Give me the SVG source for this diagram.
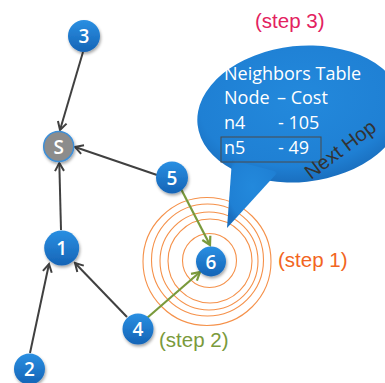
<svg xmlns="http://www.w3.org/2000/svg" width="385" height="383" viewBox="0 0 385 383">
  <style>
    .ring { fill: none; stroke: #f5914a; stroke-width: 1.1; }
    .edge { fill: none; stroke: #404040; stroke-width: 2; }
    .hop { fill: none; stroke: #7a9a3c; stroke-width: 2.2; }
    .node { fill: url(#nodeFill); filter: url(#shadow); }
    .sink { fill: #8c8c8c; stroke: #3d8fd8; stroke-width: 1.5; filter: url(#shadow); }
    .lbl { font-family: "Open Sans", "Liberation Sans", sans-serif; font-size: 19px; font-weight: 600; fill: #ffffff; text-anchor: middle; }
    .tbl { font-family: "Open Sans", "Liberation Sans", sans-serif; font-size: 18px; fill: #ffffff; }
    .step { font-family: "Liberation Sans", Arial, sans-serif; font-size: 20.5px; }
  </style>
  <defs>
    <linearGradient id="nodeFill" x1="0" y1="0" x2="0" y2="1">
      <stop offset="0" stop-color="#2a8fe2"/>
      <stop offset="1" stop-color="#1564b6"/>
    </linearGradient>
    <radialGradient id="bubbleFill" cx="0.5" cy="0.4" r="0.6">
      <stop offset="0" stop-color="#2389dc"/>
      <stop offset="0.8" stop-color="#1f80d4"/>
      <stop offset="1" stop-color="#1a6fbf"/>
    </radialGradient>
    <filter id="shadow" x="-30%" y="-30%" width="170%" height="170%">
      <feDropShadow dx="1" dy="2" stdDeviation="1.5" flood-color="#000" flood-opacity="0.35"/>
    </filter>
    <marker id="arrDark" viewBox="-10 -6 12 12" refX="0" refY="0" markerWidth="12" markerHeight="12" markerUnits="userSpaceOnUse" orient="auto">
      <path d="M-8,-4.5 L0,0 L-8,4.5" fill="none" stroke="#404040" stroke-width="2" stroke-linejoin="miter"/>
    </marker>
    <marker id="arrGreen" viewBox="-10 -6 12 12" refX="0" refY="0" markerWidth="12" markerHeight="12" markerUnits="userSpaceOnUse" orient="auto">
      <path d="M-8,-4.5 L0,0 L-8,4.5" fill="none" stroke="#7a9a3c" stroke-width="2.2" stroke-linejoin="miter"/>
    </marker>
  </defs>

  <!-- broadcast rings around node 6 -->
  <g id="rings">
    <circle class="ring" cx="207" cy="261.5" r="64"/>
    <circle class="ring" cx="207.5" cy="260" r="56"/>
    <circle class="ring" cx="209" cy="261" r="49"/>
    <circle class="ring" cx="210" cy="261" r="42"/>
    <circle class="ring" cx="209.5" cy="260.5" r="27"/>
  </g>

  <!-- neighbors table callout -->
  <g id="callout">
    <g fill="url(#bubbleFill)">
      <ellipse cx="300" cy="114" rx="103" ry="68" transform="rotate(-6 300 114)"/>
      <polygon points="232,160 227,228 278,172"/>
    </g>
    <text class="tbl" x="224" y="80">Neighbors Table</text>
    <text class="tbl" x="224" y="104">Node</text>
    <text class="tbl" x="277" y="104">– Cost</text>
    <text class="tbl" x="224" y="129">n4</text>
    <text class="tbl" x="278" y="129">- 105</text>
    <text class="tbl" x="224" y="154">n5</text>
    <text class="tbl" x="278" y="154">- 49</text>
    <rect x="221" y="137" width="100" height="25" fill="none" stroke="#4a4a4a" stroke-width="1"/>
    <text x="311" y="180" transform="rotate(-37 311 180)" font-family="Liberation Sans, Arial, sans-serif" font-size="20" fill="#333333">Next Hop</text>
  </g>

  <!-- connectors -->
  <g id="connectors">
    <line class="edge" x1="83" y1="52" x2="60" y2="130" marker-end="url(#arrDark)"/>
    <line class="edge" x1="157" y1="175" x2="75" y2="147" marker-end="url(#arrDark)"/>
    <line class="edge" x1="61" y1="230" x2="59.3" y2="163" marker-end="url(#arrDark)"/>
    <line class="edge" x1="30" y1="353" x2="49" y2="264" marker-end="url(#arrDark)"/>
    <line class="edge" x1="127" y1="317" x2="75" y2="263" marker-end="url(#arrDark)"/>
    <line class="hop" x1="180" y1="187" x2="210" y2="245" marker-end="url(#arrGreen)"/>
    <line class="hop" x1="147" y1="318" x2="200" y2="272" marker-end="url(#arrGreen)"/>
  </g>

  <!-- nodes -->
  <g id="node-3"><circle class="node" cx="84" cy="36" r="16"/><text class="lbl" x="84" y="43">3</text></g>
  <g id="node-S"><circle class="sink" cx="58.7" cy="146.5" r="15"/><text class="lbl" x="58.7" y="153.5">S</text></g>
  <g id="node-5"><circle class="node" cx="172" cy="177.5" r="16"/><text class="lbl" x="172" y="184.5">5</text></g>
  <g id="node-1"><circle class="node" cx="61.7" cy="248" r="17.5"/><text class="lbl" x="61.7" y="255">1</text></g>
  <g id="node-2"><circle class="node" cx="29.5" cy="369" r="15.5"/><text class="lbl" x="29.5" y="376">2</text></g>
  <g id="node-4"><circle class="node" cx="138" cy="329" r="15.5"/><text class="lbl" x="138" y="336">4</text></g>
  <g id="node-6"><circle class="node" cx="211" cy="261.5" r="15"/><text class="lbl" x="211" y="268.5">6</text></g>

  <!-- step labels -->
  <g id="steps">
    <text class="step" x="255" y="28" fill="#e3225f">(step 3)</text>
    <text class="step" x="278" y="267" fill="#f26522">(step 1)</text>
    <text class="step" x="159" y="347" fill="#7a9a3c">(step 2)</text>
  </g>
</svg>
